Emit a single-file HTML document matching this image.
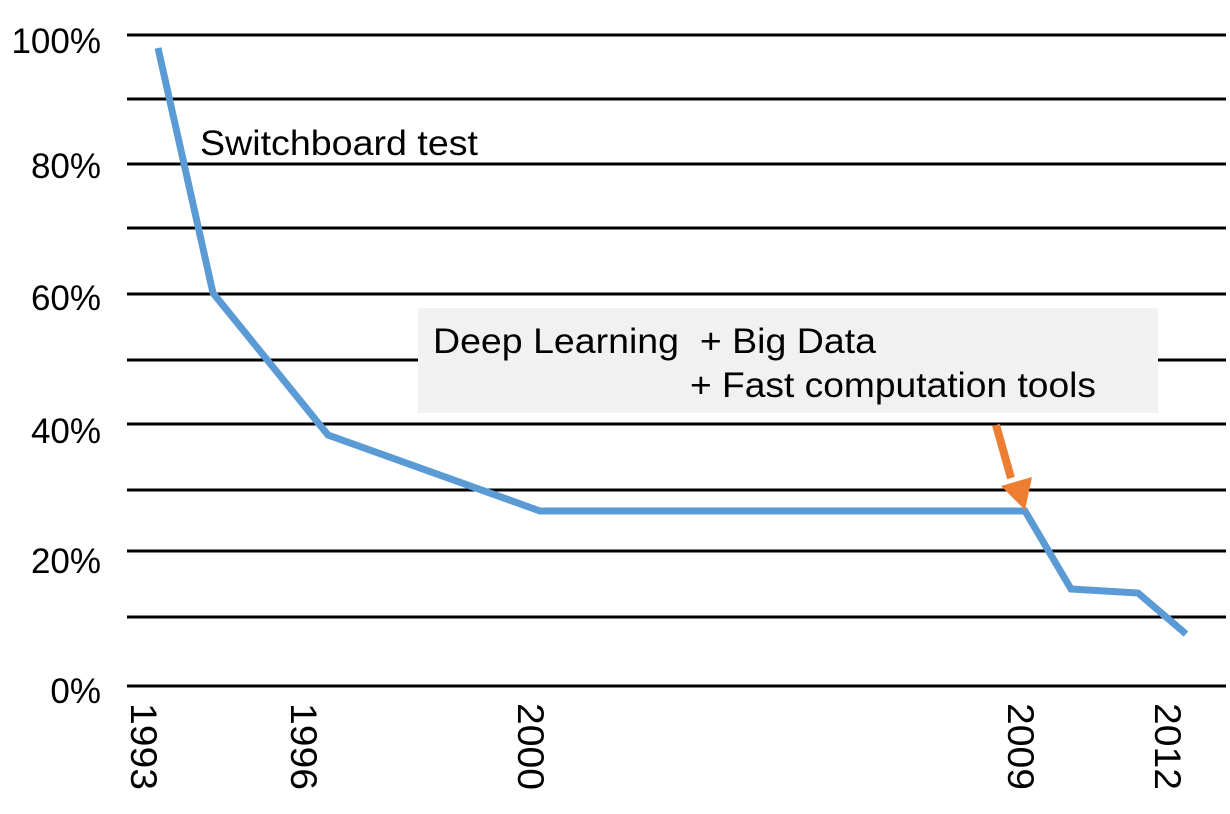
<!DOCTYPE html>
<html><head><meta charset="utf-8"><style>body{margin:0;background:#fff}svg{display:block}text{font-family:"Liberation Sans",Arial,sans-serif;fill:#000}</style></head>
<body>
<svg width="1230" height="814" viewBox="0 0 1230 814">
<g stroke="#000" stroke-width="3">
<line x1="127" x2="1226" y1="35" y2="35"/><line x1="127" x2="1226" y1="99" y2="99"/>
<line x1="127" x2="1226" y1="164" y2="164"/><line x1="127" x2="1226" y1="228" y2="228"/>
<line x1="127" x2="1226" y1="294" y2="294"/><line x1="127" x2="1226" y1="360" y2="360"/>
<line x1="127" x2="1226" y1="424" y2="424"/><line x1="127" x2="1226" y1="490" y2="490"/>
<line x1="127" x2="1226" y1="551" y2="551"/><line x1="127" x2="1226" y1="617" y2="617"/>
<line x1="127" x2="1226" y1="686" y2="686"/>
</g>
<rect x="418" y="308" width="740" height="105" fill="#f1f1f1"/>
<g font-size="35" text-anchor="end">
<text x="101" y="53">100%</text><text x="101" y="178">80%</text><text x="101" y="310">60%</text>
<text x="101" y="443">40%</text><text x="101" y="573">20%</text><text x="101" y="703">0%</text>
</g>
<polyline points="158,48 213,293 328,435 540,511 1025,511 1071,589 1138,593 1186,634" fill="none" stroke="#5b9bd5" stroke-width="7" stroke-linejoin="miter"/>
<line x1="996" y1="425" x2="1011" y2="478" stroke="#ed7d31" stroke-width="8"/>
<polygon points="1001,486 1032,477 1025,510" fill="#ed7d31"/>
<text x="200" y="155" font-size="35" textLength="278" lengthAdjust="spacingAndGlyphs">Switchboard test</text>
<text x="433" y="353" font-size="35" xml:space="preserve" textLength="443" lengthAdjust="spacingAndGlyphs">Deep Learning  + Big Data</text>
<text x="690" y="397" font-size="35" textLength="406" lengthAdjust="spacingAndGlyphs">+ Fast computation tools</text>
<g font-size="37">
<text transform="translate(131,703) rotate(90)" textLength="87" lengthAdjust="spacingAndGlyphs">1993</text>
<text transform="translate(291,703) rotate(90)" textLength="87" lengthAdjust="spacingAndGlyphs">1996</text>
<text transform="translate(518,703) rotate(90)" textLength="87" lengthAdjust="spacingAndGlyphs">2000</text>
<text transform="translate(1008,703) rotate(90)" textLength="87" lengthAdjust="spacingAndGlyphs">2009</text>
<text transform="translate(1155,703) rotate(90)" textLength="87" lengthAdjust="spacingAndGlyphs">2012</text>
</g>
</svg>
</body></html>
